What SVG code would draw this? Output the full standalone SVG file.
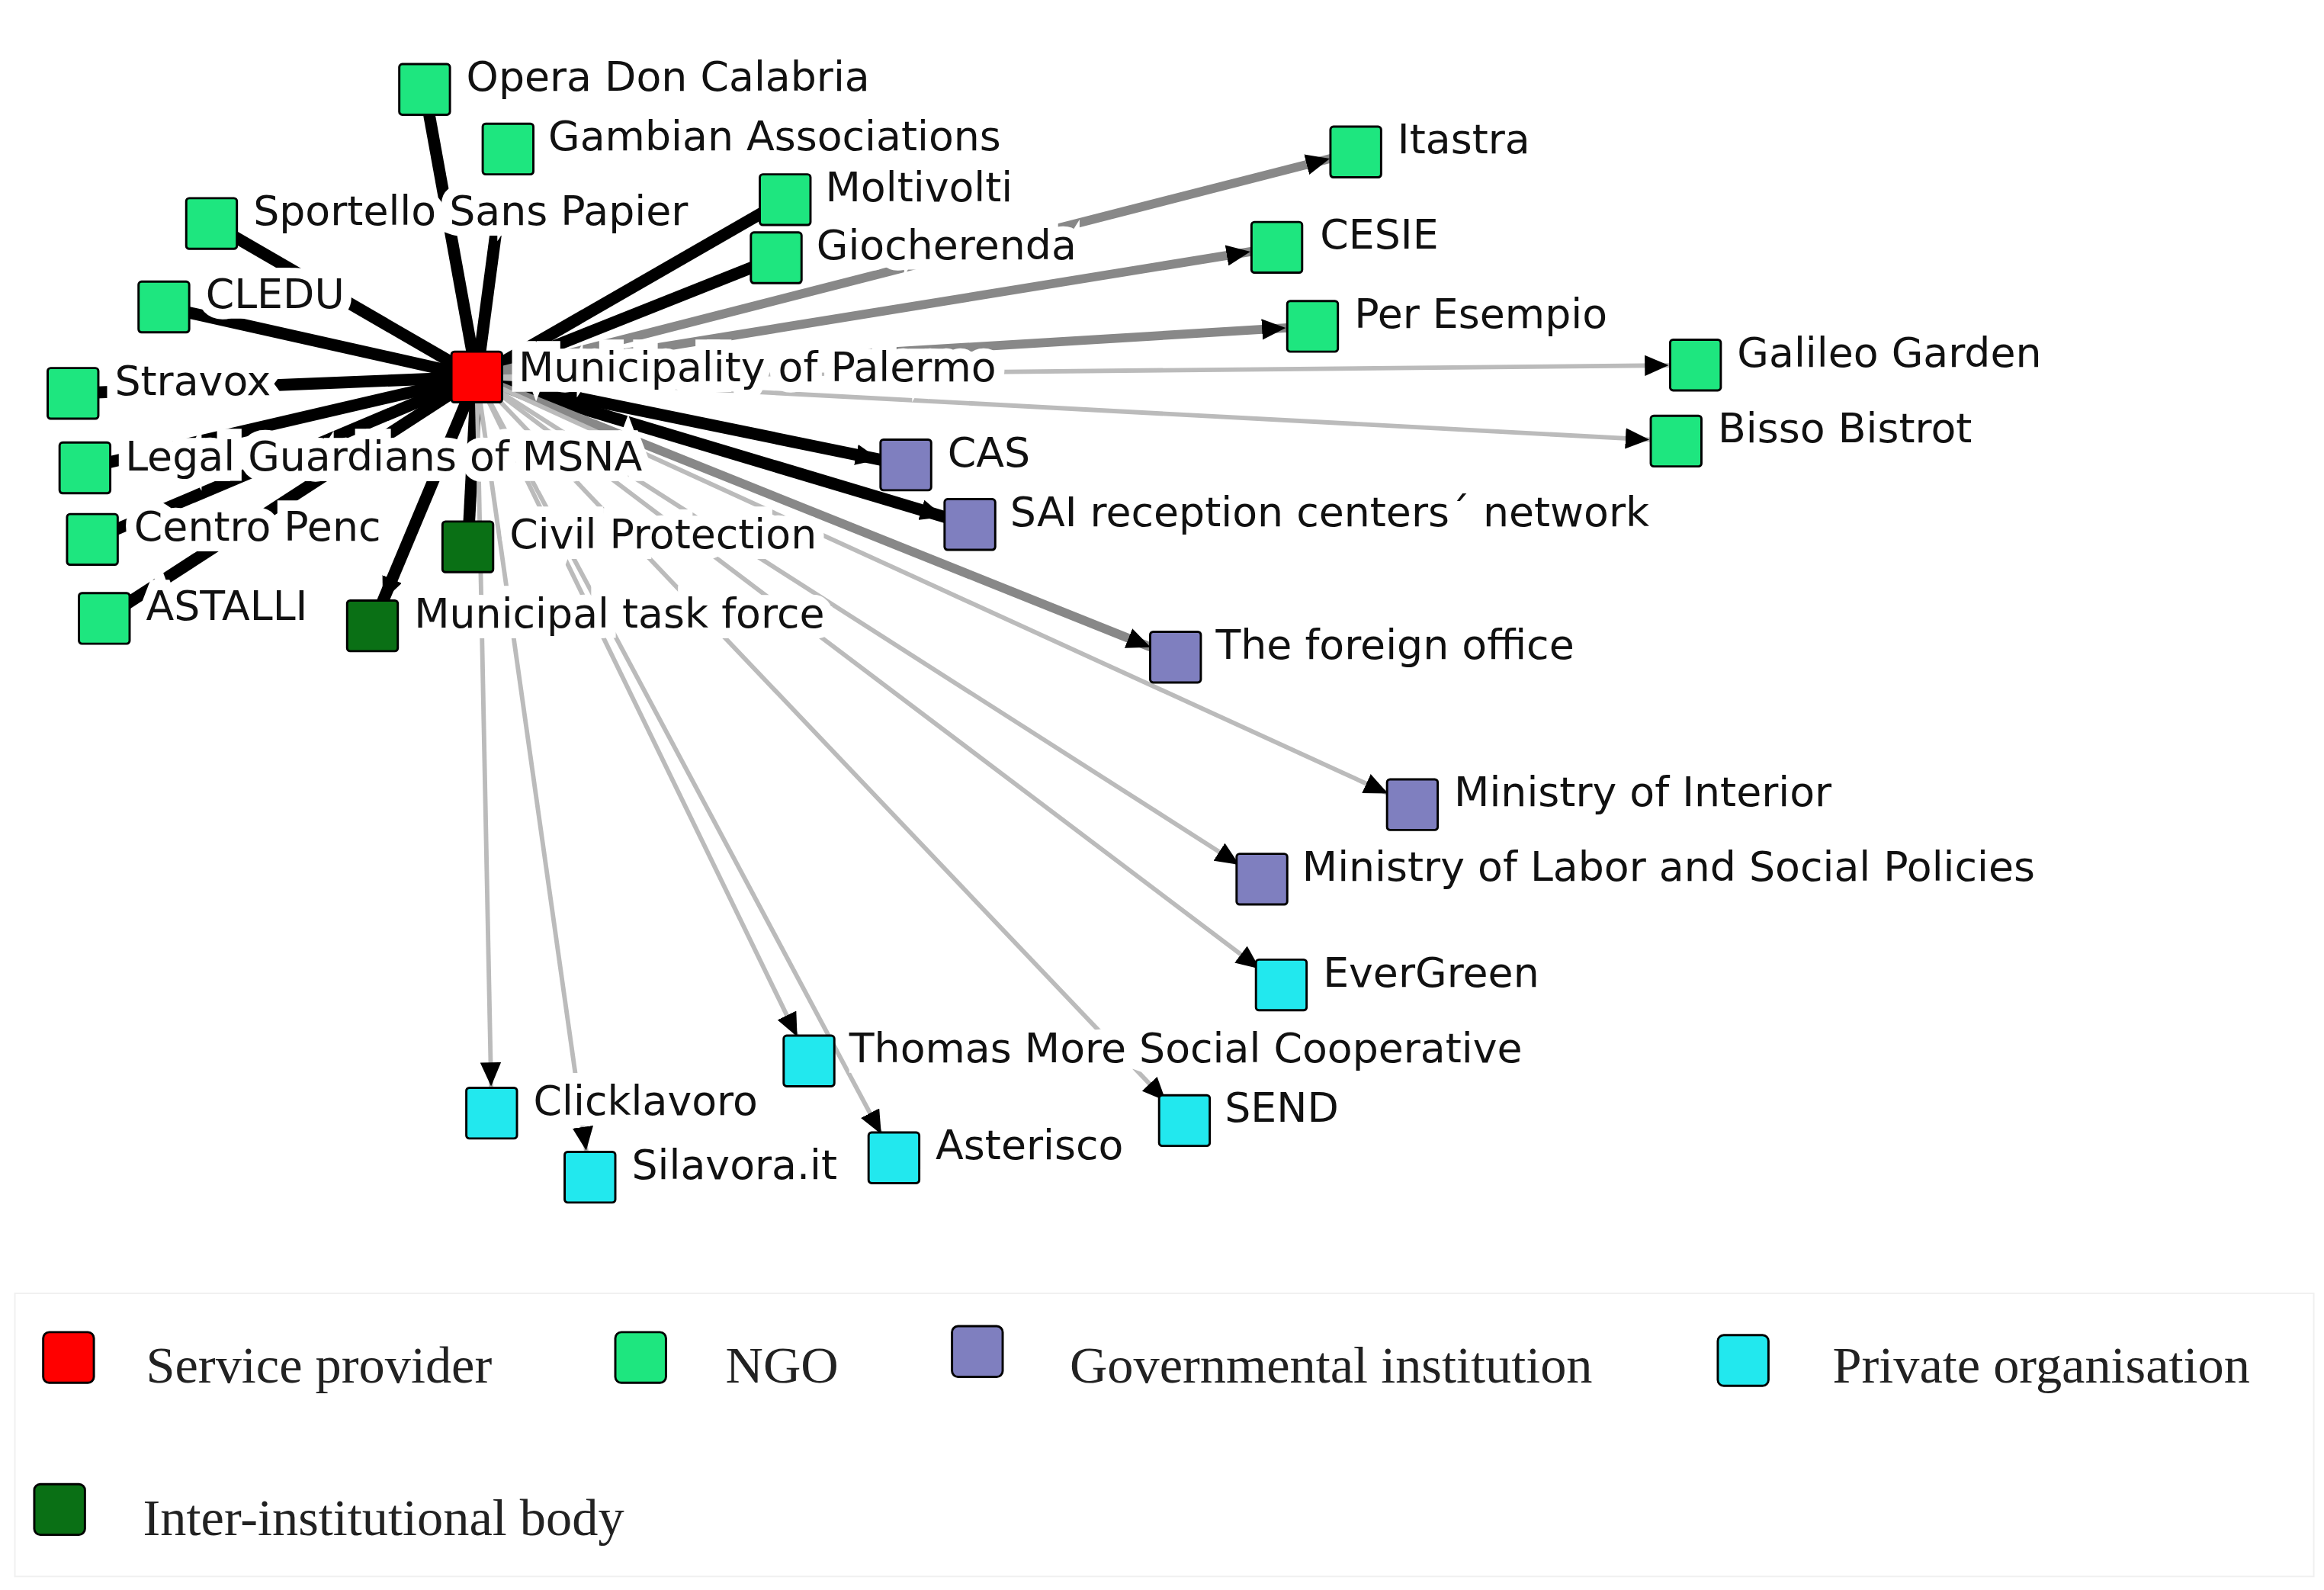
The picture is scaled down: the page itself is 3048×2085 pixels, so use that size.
<svg xmlns="http://www.w3.org/2000/svg" width="3048" height="2085" viewBox="0 0 3048 2085">
<style>
.n{stroke:#000;stroke-width:1.5}
.ngo{fill:#1ee67f}.gov{fill:#7f7fbf}.pri{fill:#22e8ee}.ib{fill:#0a7015}.sp{fill:#f00}
.l{font-family:"DejaVu Sans",sans-serif;font-size:27.5px;fill:#111;stroke:#fff;stroke-width:14;paint-order:stroke;stroke-linejoin:miter}
.lg{font-family:"Liberation Serif",serif;font-size:35px;fill:#222}
.b{stroke:#000;stroke-width:8}.m{stroke:#888;stroke-width:6}.t{stroke:#bbb;stroke-width:3}
</style>
<defs>
<marker id="a" markerUnits="userSpaceOnUse" markerWidth="40" markerHeight="14" refX="34" refY="7" orient="auto"><path d="M0,0L16,7L0,14z" fill="#000"/></marker>
</defs>
<rect width="3048" height="2085" fill="#fff"/>
<g transform="scale(1.954)">
<g id="edges" fill="none">
<line class="b" x1="320" y1="253" x2="285" y2="60"/>
<line class="b" x1="320" y1="253" x2="335" y2="140"/>
<line class="b" x1="320" y1="253" x2="142" y2="150"/>
<line class="b" x1="320" y1="253" x2="110" y2="206"/>
<line class="b" x1="320" y1="253" x2="49" y2="264"/>
<line class="b" x1="320" y1="253" x2="57" y2="314"/>
<line class="b" x1="320" y1="253" x2="62" y2="362"/>
<line class="b" x1="320" y1="253" x2="70" y2="415"/>
<line class="b" x1="320" y1="253" x2="527" y2="134"/>
<line class="b" x1="320" y1="253" x2="521" y2="173"/>
<line class="b" x1="320" y1="253" x2="250" y2="420" marker-end="url(#a)"/>
<line class="b" x1="320" y1="253" x2="314" y2="367"/>
<line class="b" x1="320" y1="253" x2="608" y2="312" marker-end="url(#a)"/>
<line class="b" x1="320" y1="253" x2="651" y2="352" marker-end="url(#a)"/>
<line class="m" x1="320" y1="253" x2="910" y2="102" marker-end="url(#a)"/>
<line class="m" x1="320" y1="253" x2="857" y2="166" marker-end="url(#a)"/>
<line class="m" x1="320" y1="253" x2="881" y2="219" marker-end="url(#a)"/>
<line class="m" x1="320" y1="253" x2="789" y2="441" marker-end="url(#a)"/>
<line class="t" x1="320" y1="253" x2="1138" y2="245" marker-end="url(#a)"/>
<line class="t" x1="320" y1="253" x2="1125" y2="296" marker-end="url(#a)"/>
<line class="t" x1="320" y1="253" x2="948" y2="540" marker-end="url(#a)"/>
<line class="t" x1="320" y1="253" x2="847" y2="590" marker-end="url(#a)"/>
<line class="t" x1="320" y1="253" x2="860" y2="661" marker-end="url(#a)"/>
<line class="t" x1="320" y1="253" x2="543" y2="712" marker-end="url(#a)"/>
<line class="t" x1="320" y1="253" x2="795" y2="752" marker-end="url(#a)"/>
<line class="t" x1="320" y1="253" x2="330" y2="747" marker-end="url(#a)"/>
<line class="t" x1="320" y1="253" x2="396" y2="790" marker-end="url(#a)"/>
<line class="t" x1="320" y1="253" x2="600" y2="777" marker-end="url(#a)"/>
</g>
<g id="n-mun"><rect class="n sp" x="303" y="236" width="34" height="34" rx="2"/><text class="l" x="348" y="256">Municipality of Palermo</text></g>
<g id="n-opera"><rect class="n ngo" x="268" y="43" width="34" height="34" rx="2"/><text class="l" x="313" y="61">Opera Don Calabria</text></g>
<g id="n-gamb"><rect class="n ngo" x="324" y="83" width="34" height="34" rx="2"/><text class="l" x="368" y="101">Gambian Associations</text></g>
<g id="n-sport"><rect class="n ngo" x="125" y="133" width="34" height="34" rx="2"/><text class="l" x="170" y="151">Sportello Sans Papier</text></g>
<g id="n-molt"><rect class="n ngo" x="510" y="117" width="34" height="34" rx="2"/><text class="l" x="554" y="135">Moltivolti</text></g>
<g id="n-gioc"><rect class="n ngo" x="504" y="156" width="34" height="34" rx="2"/><text class="l" x="548" y="174">Giocherenda</text></g>
<g id="n-cledu"><rect class="n ngo" x="93" y="189" width="34" height="34" rx="2"/><text class="l" x="138" y="207">CLEDU</text></g>
<g id="n-strav"><rect class="n ngo" x="32" y="247" width="34" height="34" rx="2"/><text class="l" x="77" y="265">Stravox</text></g>
<g id="n-legal"><rect class="n ngo" x="40" y="297" width="34" height="34" rx="2"/><text class="l" x="84" y="316">Legal Guardians of MSNA</text></g>
<g id="n-penc"><rect class="n ngo" x="45" y="345" width="34" height="34" rx="2"/><text class="l" x="90" y="363">Centro Penc</text></g>
<g id="n-astalli"><rect class="n ngo" x="53" y="398" width="34" height="34" rx="2"/><text class="l" x="98" y="416">ASTALLI</text></g>
<g id="n-civil"><rect class="n ib" x="297" y="350" width="34" height="34" rx="2"/><text class="l" x="342" y="368">Civil Protection</text></g>
<g id="n-task"><rect class="n ib" x="233" y="403" width="34" height="34" rx="2"/><text class="l" x="278" y="421">Municipal task force</text></g>
<g id="n-itastra"><rect class="n ngo" x="893" y="85" width="34" height="34" rx="2"/><text class="l" x="938" y="103">Itastra</text></g>
<g id="n-cesie"><rect class="n ngo" x="840" y="149" width="34" height="34" rx="2"/><text class="l" x="886" y="167">CESIE</text></g>
<g id="n-peres"><rect class="n ngo" x="864" y="202" width="34" height="34" rx="2"/><text class="l" x="909" y="220">Per Esempio</text></g>
<g id="n-galileo"><rect class="n ngo" x="1121" y="228" width="34" height="34" rx="2"/><text class="l" x="1166" y="246">Galileo Garden</text></g>
<g id="n-bisso"><rect class="n ngo" x="1108" y="279" width="34" height="34" rx="2"/><text class="l" x="1153" y="297">Bisso Bistrot</text></g>
<g id="n-cas"><rect class="n gov" x="591" y="295" width="34" height="34" rx="2"/><text class="l" x="636" y="313">CAS</text></g>
<g id="n-sai"><rect class="n gov" x="634" y="335" width="34" height="34" rx="2"/><text class="l" x="678" y="353">SAI reception centers´ network</text></g>
<g id="n-foreign"><rect class="n gov" x="772" y="424" width="34" height="34" rx="2"/><text class="l" x="816" y="442">The foreign office</text></g>
<g id="n-interior"><rect class="n gov" x="931" y="523" width="34" height="34" rx="2"/><text class="l" x="976" y="541">Ministry of Interior</text></g>
<g id="n-labor"><rect class="n gov" x="830" y="573" width="34" height="34" rx="2"/><text class="l" x="874" y="591">Ministry of Labor and Social Policies</text></g>
<g id="n-ever"><rect class="n pri" x="843" y="644" width="34" height="34" rx="2"/><text class="l" x="888" y="662">EverGreen</text></g>
<g id="n-thomas"><rect class="n pri" x="526" y="695" width="34" height="34" rx="2"/><text class="l" x="570" y="713">Thomas More Social Cooperative</text></g>
<g id="n-send"><rect class="n pri" x="778" y="735" width="34" height="34" rx="2"/><text class="l" x="822" y="753">SEND</text></g>
<g id="n-click"><rect class="n pri" x="313" y="730" width="34" height="34" rx="2"/><text class="l" x="358" y="748">Clicklavoro</text></g>
<g id="n-sila"><rect class="n pri" x="379" y="773" width="34" height="34" rx="2"/><text class="l" x="424" y="791">Silavora.it</text></g>
<g id="n-aster"><rect class="n pri" x="583" y="760" width="34" height="34" rx="2"/><text class="l" x="628" y="778">Asterisco</text></g>
<g id="legend">
<rect x="10" y="868" width="1543" height="190" fill="none" stroke="#f0f0f0" stroke-width="1"/>
<rect class="n sp" x="29" y="894" width="34" height="34" rx="4"/><text class="lg" x="98" y="928">Service provider</text>
<rect class="n ngo" x="413" y="894" width="34" height="34" rx="4"/><text class="lg" x="487" y="928">NGO</text>
<rect class="n gov" x="639" y="890" width="34" height="34" rx="4"/><text class="lg" x="718" y="928">Governmental institution</text>
<rect class="n pri" x="1153" y="896" width="34" height="34" rx="4"/><text class="lg" x="1230" y="928">Private organisation</text>
<rect class="n ib" x="23" y="996" width="34" height="34" rx="4"/><text class="lg" x="96" y="1030">Inter-institutional body</text>
</g>
</g>
</svg>
